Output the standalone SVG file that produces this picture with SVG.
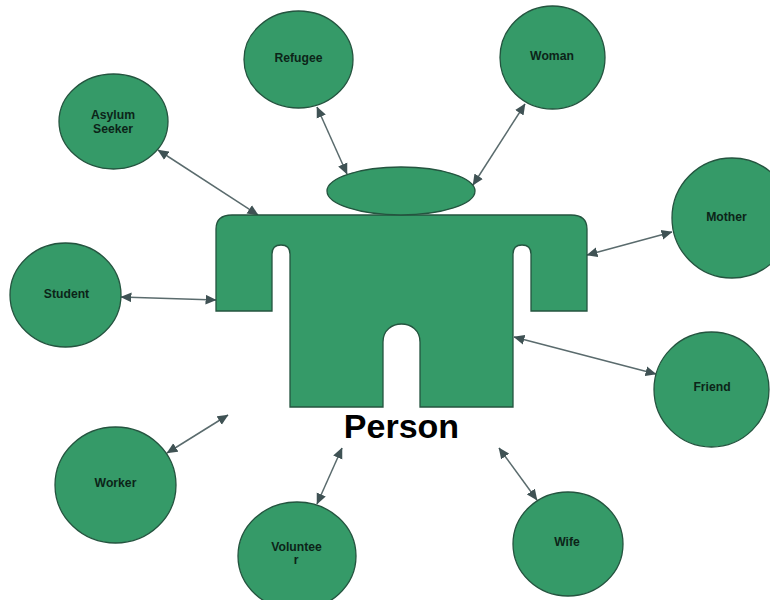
<svg xmlns="http://www.w3.org/2000/svg" width="770" height="600" viewBox="0 0 770 600">
<style>
.s{fill:#359a68;stroke:#24543f;stroke-width:1.3}
.t{font-family:"Liberation Sans",Arial,sans-serif;font-weight:700;font-size:12.2px;text-anchor:middle;fill:#0c2418}
.c{stroke:#5a6b6d;stroke-width:1.5;fill:none;marker-start:url(#a);marker-end:url(#a)}
</style>
<defs><marker id="a" viewBox="0 0 10 10" refX="9.5" refY="5" markerWidth="11" markerHeight="11" markerUnits="userSpaceOnUse" orient="auto-start-reverse"><path d="M0 0.5L10 5L0 9.5z" fill="#3f5254"/></marker></defs>
<rect width="770" height="600" fill="#fff"/>
<g id="connectors">
<path class="c" d="M158 150L258 215"/>
<path class="c" d="M317 107L347 174"/>
<path class="c" d="M525 104L473 185"/>
<path class="c" d="M672 232L587 255"/>
<path class="c" d="M121 297L216 300"/>
<path class="c" d="M656 374L514 337"/>
<path class="c" d="M167 453L228 415"/>
<path class="c" d="M317 504L342 448"/>
<path class="c" d="M537 500L499 448"/>
</g>
<g id="person">
<path class="s" d="M216 311V229Q216 215 232 215H571Q587 215 587 229V311H531V254Q531 245 522 245Q513 245 513 254V407H420V342C420 318 383 318 383 342V407H290V254Q290 245 281 245Q272 245 272 254V311Z"/>
<ellipse class="s" cx="401" cy="191" rx="74" ry="24"/>
<text x="401.5" y="438" font-family="'Liberation Sans',Arial,sans-serif" font-weight="700" font-size="34" text-anchor="middle" fill="#000">Person</text>
</g>
<g id="refugee"><ellipse class="s" cx="298.5" cy="59.5" rx="54.5" ry="48.5"/><text class="t" x="298.5" y="62">Refugee</text></g>
<g id="woman"><ellipse class="s" cx="552.5" cy="57.5" rx="52.5" ry="51.5"/><text class="t" x="552" y="60">Woman</text></g>
<g id="asylum"><ellipse class="s" cx="113.5" cy="121.5" rx="54.5" ry="47.5"/><text class="t" x="113" y="119">Asylum</text><text class="t" x="113" y="133">Seeker</text></g>
<g id="mother"><ellipse class="s" cx="732" cy="218" rx="60" ry="60"/><text class="t" x="726.5" y="221">Mother</text></g>
<g id="student"><ellipse class="s" cx="65.5" cy="295" rx="55.5" ry="52"/><text class="t" x="66.5" y="298">Student</text></g>
<g id="friend"><ellipse class="s" cx="711.5" cy="389.5" rx="57.5" ry="57.5"/><text class="t" x="712" y="391">Friend</text></g>
<g id="worker"><ellipse class="s" cx="115.5" cy="485" rx="60.5" ry="58"/><text class="t" x="115.5" y="487">Worker</text></g>
<g id="volunteer"><ellipse class="s" cx="297" cy="556" rx="59" ry="54"/><text class="t" x="296.5" y="551">Voluntee</text><text class="t" x="296" y="564">r</text></g>
<g id="wife"><ellipse class="s" cx="568" cy="544" rx="55" ry="52"/><text class="t" x="567" y="546">Wife</text></g>
</svg>
